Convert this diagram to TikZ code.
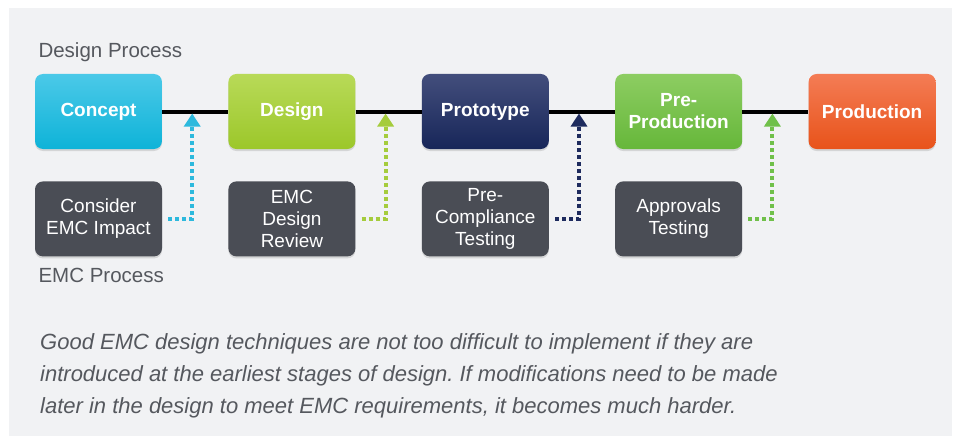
\documentclass[tikz,border=0pt]{standalone}
\usepackage{fontspec}
\setmainfont{Liberation Sans}
\usetikzlibrary{positioning,arrows.meta,shadows}
\frenchspacing
\definecolor{bgGray}{HTML}{F1F2F4}
\definecolor{boxGray}{HTML}{4A4D55}
\definecolor{labelGray}{HTML}{55585E}
\definecolor{cyanTop}{HTML}{4BC9E8}
\definecolor{cyanBot}{HTML}{0EB3D8}
\definecolor{limeTop}{HTML}{B8DA58}
\definecolor{limeBot}{HTML}{9CC72A}
\definecolor{navyTop}{HTML}{434E7C}
\definecolor{navyBot}{HTML}{172659}
\definecolor{greenTop}{HTML}{8DCD62}
\definecolor{greenBot}{HTML}{66B73A}
\definecolor{orangeTop}{HTML}{F47C55}
\definecolor{orangeBot}{HTML}{E8531A}
\definecolor{cyanArrow}{HTML}{2DB9DD}
\definecolor{limeArrow}{HTML}{A5CC3C}
\definecolor{navyArrow}{HTML}{1E2B5E}
\definecolor{greenArrow}{HTML}{70C04A}

\begin{document}
\begin{tikzpicture}[x=1pt,y=-1pt,node distance=66pt,
    stage/.style={rounded corners=8pt,minimum width=127pt,minimum height=75pt,
      inner sep=2pt,align=center,text=white,
      font=\fontsize{19}{22}\selectfont\bfseries,
      drop shadow={shadow xshift=0pt,shadow yshift=-2pt,opacity=0.25}},
    emc node/.style={stage,fill=boxGray,font=\fontsize{19}{22}\selectfont},
    feed/.style={line width=4pt,dash pattern=on 4pt off 3pt,shorten <=6pt,
      -{Triangle[width=16pt,length=13pt]}}]
    \useasboundingbox (0,0) rectangle (956,436);
    \fill[white] (0,0) rectangle (956,436);
    \fill[bgGray] (9,8) rectangle (952,436);

    % design process
    \node[anchor=base west,text=labelGray,font=\fontsize{20.5}{24}\selectfont] (dlabel) at (35,58) {Design Process};
    \node[stage,top color=cyanTop,bottom color=cyanBot] (concept) at (98.5,111.5) {Concept};
    \node[stage,top color=limeTop,bottom color=limeBot] (design) [right=of concept] {Design};
    \node[stage,top color=navyTop,bottom color=navyBot] (proto) [right=of design] {Prototype};
    \node[stage,top color=greenTop,bottom color=greenBot] (preprod) [right=of proto] {Pre-\\Production};
    \node[stage,top color=orangeTop,bottom color=orangeBot] (prod) [right=of preprod] {Production};
    \draw[line width=4pt] (concept) -- (design)
      (design) -- (proto)
      (proto) -- (preprod)
      (preprod) -- (prod);

    % emc process
    \node[emc node] (consider) [below=32pt of concept] {Consider\\EMC Impact};
    \node[emc node] (review) [right=of consider] {EMC\\Design\\Review};
    \node[emc node] (precomp) [right=of review] {Pre-\\Compliance\\Testing};
    \node[emc node] (approvals) [right=of precomp] {Approvals\\Testing};
    \node[anchor=base west,text=labelGray,font=\fontsize{20.5}{24}\selectfont] (elabel) at (35,282) {EMC Process};

    \coordinate (m1) at ([xshift=30pt,yshift=-2pt]concept.east);
    \coordinate (m2) at ([xshift=30pt,yshift=-2pt]design.east);
    \coordinate (m3) at ([xshift=30pt,yshift=-2pt]proto.east);
    \coordinate (m4) at ([xshift=30pt,yshift=-2pt]preprod.east);
    \draw[feed,cyanArrow] (consider.east) -| (m1);
    \draw[feed,limeArrow] (review.east) -| (m2);
    \draw[feed,navyArrow] (precomp.east) -| (m3);
    \draw[feed,greenArrow] (approvals.east) -| (m4);

    % caption
    \node[anchor=north west,inner sep=0pt,align=left,text=labelGray,
      font=\fontsize{22}{32}\selectfont\itshape] (caption) at (40,333)
      {Good EMC design techniques are not too difficult to implement if they are\\
       introduced at the earliest stages of design. If modifications need to be made\\
       later in the design to meet EMC requirements, it becomes much harder.};
\end{tikzpicture}
\end{document}
